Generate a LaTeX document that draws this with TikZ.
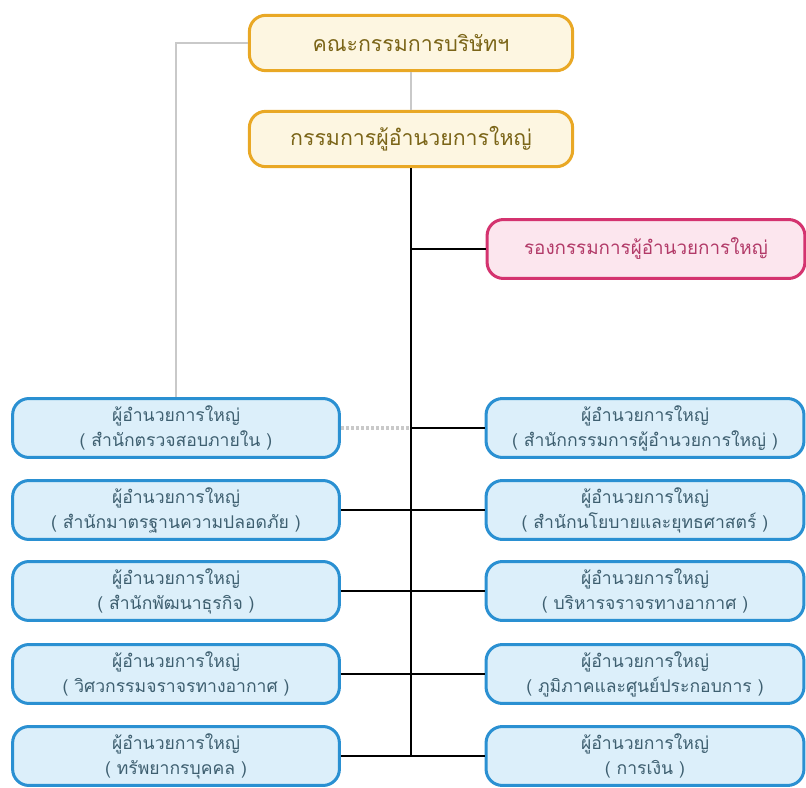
\documentclass[tikz,border=0pt]{standalone}
\usepackage{fontspec}
\newfontfamily\thaifont[Script=Thai]{Loma}
\usetikzlibrary{positioning}

\definecolor{goldline}{HTML}{E9A825}
\definecolor{goldfill}{HTML}{FDF6E1}
\definecolor{goldtext}{HTML}{7B6518}
\definecolor{pinkline}{HTML}{D4336F}
\definecolor{pinkfill}{HTML}{FCE6EE}
\definecolor{pinktext}{HTML}{B23A68}
\definecolor{blueline}{HTML}{2A90D2}
\definecolor{bluefill}{HTML}{DCEFFA}
\definecolor{bluetext}{HTML}{3E5F70}
\definecolor{greyline}{HTML}{C9C9C9}

\tikzset{
	box/.style={draw, rounded corners=13pt, line width=2.4pt, align=center, inner sep=0pt},
	topbox/.style={box, draw=goldline, fill=goldfill, text=goldtext, minimum width=9.05cm, minimum height=1.55cm, font=\thaifont\fontsize{17}{20}\selectfont},
	pinkbox/.style={box, draw=pinkline, fill=pinkfill, text=pinktext, minimum width=8.9cm, minimum height=1.65cm, font=\thaifont\fontsize{15}{19}\selectfont},
	leftbox/.style={box, draw=blueline, fill=bluefill, text=bluetext, minimum width=9.15cm, minimum height=1.65cm, font=\thaifont\fontsize{14}{20}\selectfont},
	rightbox/.style={leftbox, minimum width=8.9cm},
	mainline/.style={line width=2.2pt, black},
	greylink/.style={line width=1.8pt, greyline},
}

\begin{document}
\begin{tikzpicture}[x=0.028cm, y=-0.028cm]
		\useasboundingbox (0,0) rectangle (806,788);
		% top of the chart
		\node[topbox] (board) at (411,43) {คณะกรรมการบริษัทฯ};
		\node[topbox] (ceo) at (411,139) {กรรมการผู้อำนวยการใหญ่};
		\node[pinkbox] (deputy) at (646,249) {รองกรรมการผู้อำนวยการใหญ่};
		% left column
		\node[leftbox] (audit) at (176,428) {ผู้อำนวยการใหญ่\\( สำนักตรวจสอบภายใน )};
		\node[leftbox] (safety) at (176,510) {ผู้อำนวยการใหญ่\\( สำนักมาตรฐานความปลอดภัย )};
		\node[leftbox] (busdev) at (176,591) {ผู้อำนวยการใหญ่\\( สำนักพัฒนาธุรกิจ )};
		\node[leftbox] (atmeng) at (176,674) {ผู้อำนวยการใหญ่\\( วิศวกรรมจราจรทางอากาศ )};
		\node[leftbox] (hr) at (176,756) {ผู้อำนวยการใหญ่\\( ทรัพยากรบุคคล )};
		% right column
		\node[rightbox] (office) at (645,428) {ผู้อำนวยการใหญ่\\( สำนักกรรมการผู้อำนวยการใหญ่ )};
		\node[rightbox] (policy) at (645,510) {ผู้อำนวยการใหญ่\\( สำนักนโยบายและยุทธศาสตร์ )};
		\node[rightbox] (atm) at (645,591) {ผู้อำนวยการใหญ่\\( บริหารจราจรทางอากาศ )};
		\node[rightbox] (region) at (645,674) {ผู้อำนวยการใหญ่\\( ภูมิภาคและศูนย์ประกอบการ )};
		\node[rightbox] (finance) at (645,756) {ผู้อำนวยการใหญ่\\( การเงิน )};
		% connectors
		\draw[greylink] (board) -- (ceo);
		\draw[greylink] (board.west) -| (audit.north);
		\draw[greylink, dash pattern=on 2.4pt off 1.6pt, line width=2.6pt] (audit.east) -- (audit.east -| ceo.south);
		\draw[mainline] (ceo.south) -- (ceo.south |- finance.west);
		\draw[mainline] (deputy.west) -- (deputy.west -| ceo.south);
		\draw[mainline] (office.west) -- (office.west -| ceo.south);
		\draw[mainline] (safety.east) -- (policy.west);
		\draw[mainline] (busdev.east) -- (atm.west);
		\draw[mainline] (atmeng.east) -- (region.west);
		\draw[mainline] (hr.east) -- (finance.west);
		\end{tikzpicture}
\end{document}
